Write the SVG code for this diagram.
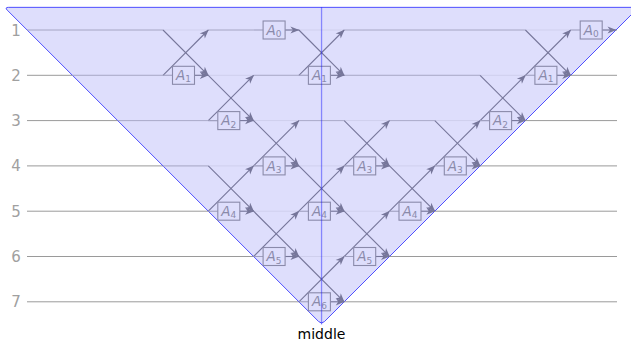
<svg xmlns="http://www.w3.org/2000/svg" width="631" height="341" viewBox="0 0 631 341">
<defs>
<marker id="ah" viewBox="-10 -4.5 11 9" refX="0" refY="0" markerWidth="11" markerHeight="9" markerUnits="userSpaceOnUse" orient="auto">
<path d="M0.5,0 L-8.5,-3.6 L-6,0 L-8.5,3.6 Z" fill="#76769a"/>
</marker>
<style>
.row{stroke:#9a9a9a;stroke-width:1;fill:none}
.h{stroke:#acacca;stroke-width:1;fill:none}
.d{stroke:#76769a;stroke-width:1.1;fill:none;marker-end:url(#ah)}
.stub{stroke:#a0a0c0;stroke-width:1.1}
.box rect{fill:#dedefc;stroke:#8a8aaa;stroke-width:1.1}
.box text{font-family:"DejaVu Sans",sans-serif;font-size:13.5px;fill:#8a8aaa;text-anchor:middle}
.box .s{font-size:9px;font-style:normal}
.lbl{font-family:"DejaVu Sans",sans-serif;font-size:15px;fill:#a0a0a0;text-anchor:middle}
</style>
</defs>
<g id="rows">
<path class="row" d="M27,30H617M27,75.3H617M27,120.6H617M27,165.9H617M27,211.2H617M27,256.5H617M27,301.8H617"/>
</g>
<g id="triangle">
<path d="M8.45,7.35 L634.65,7.35 Q638.65,7.35 635.8,10.2 L324.4,321.6 Q321.55,324.45 318.7,321.6 L7.3,10.2 Q4.45,7.35 8.45,7.35 Z" fill="#d8d8fc" fill-opacity="0.85" stroke="#3c3cff" stroke-width="0.9"/>
</g>
<g id="connectors">
<path class="h" d="M27.1,30H163M208.3,30H253.6M344.2,30H525.4M72.4,75.3H163M253.6,75.3H298.9M344.2,75.3H480.1M117.7,120.6H208.3M298.9,120.6H344.2M389.5,120.6H434.8M163,165.9H208.3"/>
<path class="d" d="M163,30L208.3,75.3"/><path class="d" d="M163,75.3L208.3,30"/>
<path class="d" d="M298.9,30L344.2,75.3"/><path class="d" d="M298.9,75.3L344.2,30"/>
<path class="d" d="M525.4,30L570.7,75.3"/><path class="d" d="M525.4,75.3L570.7,30"/>
<path class="d" d="M208.3,75.3L253.6,120.6"/><path class="d" d="M208.3,120.6L253.6,75.3"/>
<path class="d" d="M480.1,75.3L525.4,120.6"/><path class="d" d="M480.1,120.6L525.4,75.3"/>
<path class="d" d="M253.6,120.6L298.9,165.9"/><path class="d" d="M253.6,165.9L298.9,120.6"/>
<path class="d" d="M344.2,120.6L389.5,165.9"/><path class="d" d="M344.2,165.9L389.5,120.6"/>
<path class="d" d="M434.8,120.6L480.1,165.9"/><path class="d" d="M434.8,165.9L480.1,120.6"/>
<path class="d" d="M208.3,165.9L253.6,211.2"/><path class="d" d="M208.3,211.2L253.6,165.9"/>
<path class="d" d="M298.9,165.9L344.2,211.2"/><path class="d" d="M298.9,211.2L344.2,165.9"/>
<path class="d" d="M389.5,165.9L434.8,211.2"/><path class="d" d="M389.5,211.2L434.8,165.9"/>
<path class="d" d="M253.6,211.2L298.9,256.5"/><path class="d" d="M253.6,256.5L298.9,211.2"/>
<path class="d" d="M344.2,211.2L389.5,256.5"/><path class="d" d="M344.2,256.5L389.5,211.2"/>
<path class="d" d="M298.9,256.5L344.2,301.8"/><path class="d" d="M298.9,301.8L344.2,256.5"/>
<path class="stub" d="M253.6,30H263.1M570.7,30H580.2M163,75.3H172.5M298.9,75.3H308.4M525.4,75.3H534.9M208.3,120.6H217.8M480.1,120.6H489.6M253.6,165.9H263.1M344.2,165.9H353.7M434.8,165.9H444.3M208.3,211.2H217.8M298.9,211.2H308.4M389.5,211.2H399M253.6,256.5H263.1M344.2,256.5H353.7M298.9,301.8H308.4"/>
<path class="d" d="M285.1,30H298.9"/><path class="d" d="M602.2,30H616"/>
<path class="d" d="M194.5,75.3H208.3"/><path class="d" d="M330.4,75.3H344.2"/><path class="d" d="M556.9,75.3H570.7"/>
<path class="d" d="M239.8,120.6H253.6"/><path class="d" d="M511.6,120.6H525.4"/>
<path class="d" d="M285.1,165.9H298.9"/><path class="d" d="M375.7,165.9H389.5"/><path class="d" d="M466.3,165.9H480.1"/>
<path class="d" d="M239.8,211.2H253.6"/><path class="d" d="M330.4,211.2H344.2"/><path class="d" d="M421,211.2H434.8"/>
<path class="d" d="M285.1,256.5H298.9"/><path class="d" d="M375.7,256.5H389.5"/>
<path class="d" d="M330.4,301.8H344.2"/>
</g>
<g id="A0a" class="box"><rect x="263.1" y="21" width="22" height="18"/><text x="274.1" y="34.6"><tspan font-style="italic">A</tspan><tspan class="s" dy="2.5">0</tspan></text></g>
<g id="A0b" class="box"><rect x="580.2" y="21" width="22" height="18"/><text x="591.2" y="34.6"><tspan font-style="italic">A</tspan><tspan class="s" dy="2.5">0</tspan></text></g>
<g id="A1a" class="box"><rect x="172.5" y="66.3" width="22" height="18"/><text x="183.5" y="79.9"><tspan font-style="italic">A</tspan><tspan class="s" dy="2.5">1</tspan></text></g>
<g id="A1b" class="box"><rect x="308.4" y="66.3" width="22" height="18"/><text x="319.4" y="79.9"><tspan font-style="italic">A</tspan><tspan class="s" dy="2.5">1</tspan></text></g>
<g id="A1c" class="box"><rect x="534.9" y="66.3" width="22" height="18"/><text x="545.9" y="79.9"><tspan font-style="italic">A</tspan><tspan class="s" dy="2.5">1</tspan></text></g>
<g id="A2a" class="box"><rect x="217.8" y="111.6" width="22" height="18"/><text x="228.8" y="125.2"><tspan font-style="italic">A</tspan><tspan class="s" dy="2.5">2</tspan></text></g>
<g id="A2b" class="box"><rect x="489.6" y="111.6" width="22" height="18"/><text x="500.6" y="125.2"><tspan font-style="italic">A</tspan><tspan class="s" dy="2.5">2</tspan></text></g>
<g id="A3a" class="box"><rect x="263.1" y="156.9" width="22" height="18"/><text x="274.1" y="170.5"><tspan font-style="italic">A</tspan><tspan class="s" dy="2.5">3</tspan></text></g>
<g id="A3b" class="box"><rect x="353.7" y="156.9" width="22" height="18"/><text x="364.7" y="170.5"><tspan font-style="italic">A</tspan><tspan class="s" dy="2.5">3</tspan></text></g>
<g id="A3c" class="box"><rect x="444.3" y="156.9" width="22" height="18"/><text x="455.3" y="170.5"><tspan font-style="italic">A</tspan><tspan class="s" dy="2.5">3</tspan></text></g>
<g id="A4a" class="box"><rect x="217.8" y="202.2" width="22" height="18"/><text x="228.8" y="215.8"><tspan font-style="italic">A</tspan><tspan class="s" dy="2.5">4</tspan></text></g>
<g id="A4b" class="box"><rect x="308.4" y="202.2" width="22" height="18"/><text x="319.4" y="215.8"><tspan font-style="italic">A</tspan><tspan class="s" dy="2.5">4</tspan></text></g>
<g id="A4c" class="box"><rect x="399" y="202.2" width="22" height="18"/><text x="410" y="215.8"><tspan font-style="italic">A</tspan><tspan class="s" dy="2.5">4</tspan></text></g>
<g id="A5a" class="box"><rect x="263.1" y="247.5" width="22" height="18"/><text x="274.1" y="261.1"><tspan font-style="italic">A</tspan><tspan class="s" dy="2.5">5</tspan></text></g>
<g id="A5b" class="box"><rect x="353.7" y="247.5" width="22" height="18"/><text x="364.7" y="261.1"><tspan font-style="italic">A</tspan><tspan class="s" dy="2.5">5</tspan></text></g>
<g id="A6" class="box"><rect x="308.4" y="292.8" width="22" height="18"/><text x="319.4" y="306.4"><tspan font-style="italic">A</tspan><tspan class="s" dy="2.5">6</tspan></text></g>
<g id="middle">
<path d="M321.55,7.35V324.45" stroke="#0000ff" stroke-opacity="0.4" stroke-width="1.3" fill="none"/>
<text x="321.5" y="339" font-family="DejaVu Sans, sans-serif" font-size="14" fill="#000" text-anchor="middle">middle</text>
</g>
<g id="labels">
<text class="lbl" x="16" y="35.5">1</text>
<text class="lbl" x="16" y="80.8">2</text>
<text class="lbl" x="16" y="126.1">3</text>
<text class="lbl" x="16" y="171.4">4</text>
<text class="lbl" x="16" y="216.7">5</text>
<text class="lbl" x="16" y="262">6</text>
<text class="lbl" x="16" y="307.3">7</text>
</g>
</svg>
